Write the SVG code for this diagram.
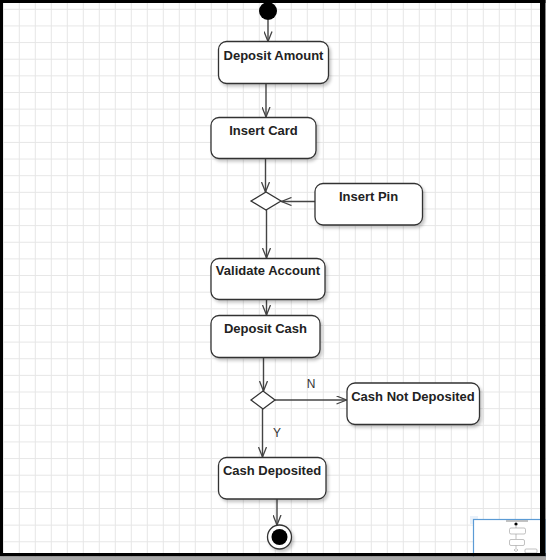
<svg xmlns="http://www.w3.org/2000/svg" width="546" height="560" viewBox="0 0 546 560">
<style>
.node rect{fill:#fff;stroke:#333;stroke-width:1.3;filter:url(#sh)}
.node polygon{fill:#fff;stroke:#333;stroke-width:1.3}
.lbl{font-family:"Liberation Sans",Arial,sans-serif;font-size:13px;font-weight:bold;fill:#222;text-anchor:middle}
.edge line{stroke:#444;stroke-width:1.4;fill:none}
.yn{font-family:"Liberation Sans",Arial,sans-serif;font-size:12px;fill:#333;text-anchor:middle}
</style>
<defs>
<pattern id="grid" patternUnits="userSpaceOnUse" x="2.8" y="8.8" width="16" height="16.64">
<path d="M0.5,0 V16.64 M0,0.5 H16" stroke="#e6e6e6" stroke-width="1" fill="none"/>
</pattern>
<filter id="sh" x="-10%" y="-10%" width="130%" height="140%">
<feDropShadow dx="2" dy="2.5" stdDeviation="1.5" flood-color="#000" flood-opacity="0.22"/>
</filter>
<marker id="arr" viewBox="0 0 11 9" refX="10.5" refY="4.5" markerWidth="11" markerHeight="9" markerUnits="userSpaceOnUse" orient="auto">
<path d="M0.5,0.5 L10.5,4.5 L0.5,8.5" fill="none" stroke="#444" stroke-width="1.3"/>
</marker>
</defs>
<rect x="0" y="0" width="546" height="560" fill="#fff"/>
<rect x="0" y="0" width="546" height="560" fill="url(#grid)"/>

<g id="connectors" class="edge">
<line x1="268" y1="20" x2="268" y2="41.5" marker-end="url(#arr)"/>
<line x1="266" y1="83.5" x2="266" y2="117" marker-end="url(#arr)"/>
<line x1="265.5" y1="158.5" x2="265.5" y2="192" marker-end="url(#arr)"/>
<line x1="315" y1="201.5" x2="281.5" y2="201.5" marker-end="url(#arr)"/>
<line x1="266.5" y1="210" x2="266.5" y2="258" marker-end="url(#arr)"/>
<line x1="266.5" y1="299.5" x2="266.5" y2="315" marker-end="url(#arr)"/>
<line x1="263.5" y1="357.5" x2="263.5" y2="391" marker-end="url(#arr)"/>
<line x1="275" y1="400" x2="346.5" y2="400" marker-end="url(#arr)"/>
<line x1="262.5" y1="409" x2="262.5" y2="457" marker-end="url(#arr)"/>
<line x1="277" y1="499" x2="277" y2="525" marker-end="url(#arr)"/>
<text class="yn" x="311" y="388">N</text>
<text class="yn" x="277" y="437">Y</text>
</g>

<g id="start" class="node"><circle cx="268" cy="11" r="9" fill="#000"/></g>
<g id="deposit-amount" class="node"><rect x="218.5" y="41.5" width="110" height="42" rx="8"/><text class="lbl" x="273.5" y="60">Deposit Amount</text></g>
<g id="insert-card" class="node"><rect x="211" y="117.5" width="105" height="41" rx="8"/><text class="lbl" x="263.5" y="135">Insert Card</text></g>
<g id="decision1" class="node"><polygon points="251,201 266,192 281,201 266,210"/></g>
<g id="insert-pin" class="node"><rect x="315" y="183.5" width="107.5" height="41.5" rx="8"/><text class="lbl" x="368.5" y="201">Insert Pin</text></g>
<g id="validate-account" class="node"><rect x="211" y="258.5" width="114" height="41" rx="8"/><text class="lbl" x="268" y="275">Validate Account</text></g>
<g id="deposit-cash" class="node"><rect x="211" y="315.5" width="109" height="42" rx="8"/><text class="lbl" x="265.5" y="333">Deposit Cash</text></g>
<g id="decision2" class="node"><polygon points="251,400 263,391 275,400 263,409"/></g>
<g id="cash-not-deposited" class="node"><rect x="347" y="383" width="132.5" height="41.5" rx="8"/><text class="lbl" x="413" y="401">Cash Not Deposited</text></g>
<g id="cash-deposited" class="node"><rect x="218.5" y="457.5" width="107.5" height="41.5" rx="8"/><text class="lbl" x="272" y="475">Cash Deposited</text></g>
<g id="end" class="node"><circle cx="279.5" cy="537" r="12" fill="#fff" stroke="#333" stroke-width="1.3" filter="url(#sh)"/><circle cx="279.5" cy="537" r="8" fill="#000"/></g>

<g id="minimap">
<rect x="470" y="516" width="8" height="8" fill="#dbe8f7" opacity="0.6"/>
<rect x="473.5" y="519.5" width="72" height="40" fill="#fff" stroke="#5b9bd5" stroke-width="1.2"/>
<rect x="506" y="520.5" width="22" height="1" fill="#888"/>
<circle cx="516" cy="524" r="1.6" fill="#000"/>
<line x1="516" y1="525" x2="516" y2="528" stroke="#999" stroke-width="0.6"/>
<rect x="509.5" y="528" width="16" height="6" rx="1.5" fill="#fff" stroke="#999" stroke-width="0.6"/>
<line x1="516" y1="534" x2="516" y2="539" stroke="#999" stroke-width="0.6"/>
<rect x="509.5" y="539.5" width="15" height="6" rx="1.5" fill="#fff" stroke="#999" stroke-width="0.6"/>
<line x1="516" y1="545.5" x2="516" y2="548" stroke="#999" stroke-width="0.6"/>
<polygon points="514,550 516,548.5 518,550 516,551.5" fill="#fff" stroke="#999" stroke-width="0.6"/>
<rect x="525" y="549" width="12" height="4" rx="1" fill="#fff" stroke="#999" stroke-width="0.6"/>
</g>

<g id="frame">
<rect x="0" y="0" width="546" height="3" fill="#000"/>
<rect x="0" y="0" width="3" height="556" fill="#000"/>
<rect x="540" y="0" width="5.5" height="556" fill="#000"/>
<rect x="545.5" y="0" width="0.5" height="560" fill="#999"/>
<rect x="0" y="553" width="545.5" height="3.5" fill="#000"/>
<rect x="0" y="556.5" width="546" height="3.5" fill="#a8a8a8"/>
</g>
</svg>
